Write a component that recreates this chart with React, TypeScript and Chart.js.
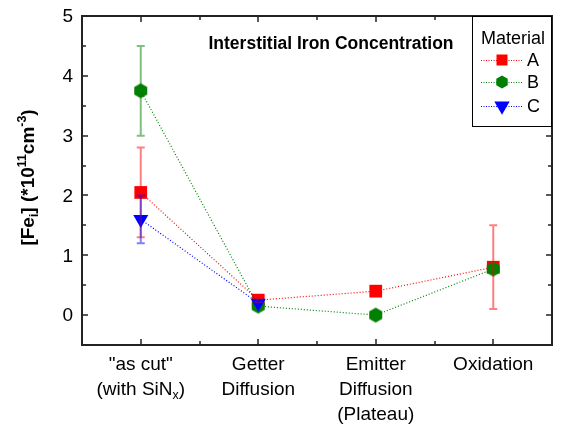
import React, { useEffect, useRef } from 'react';
import { Chart, registerables } from 'chart.js';
Chart.register(...registerables);

const categories: string[][] = [
  ['"as cut"', '(with SiN_{x})'],
  ['Getter', 'Diffusion'],
  ['Emitter', 'Diffusion', '(Plateau)'],
  ['Oxidation'],
];
const categoryPositions = [1, 2, 3, 4];
const seriesNames = ['A', 'B', 'C'];
const valuesA = [2.05, 0.25, 0.4, 0.8];
const errorsA = [0.75, 0.03, 0.06, 0.7];
const valuesB = [3.75, 0.15, 0.0, 0.77];
const errorsB = [0.75, 0, 0, 0];
const valuesC = [1.6, 0.2];
const errorsC = [0.4, 0.03];
const yTicks = [0, 1, 2, 3, 4, 5];
const yMinorTicks = [0.5, 1.5, 2.5, 3.5, 4.5];
const xMinorTicks = [1.5, 2.5, 3.5];
const Y_MIN = -0.5;
const Y_MAX = 5;
const X_MIN = 0.5;
const X_MAX = 4.5;
const chartTitle = 'Interstitial Iron Concentration';
const yAxisTitle = '[Fe_{i}] (*10^{11}cm^{-3})';
const legendTitle = 'Material';

const FONT = '"Liberation Sans", Arial, sans-serif';
const colors = ['#ff0000', '#008000', '#0000ff'];
const errColors = ['rgba(255,0,0,0.5)', 'rgba(0,128,0,0.5)', 'rgba(0,0,255,0.5)'];

type Seg = { t: string; k: 'n' | 'sub' | 'sup' };
function parseRich(s: string): Seg[] {
  const out: Seg[] = [];
  let buf = '';
  let i = 0;
  while (i < s.length) {
    const ch = s[i];
    if ((ch === '_' || ch === '^') && s[i + 1] === '{') {
      if (buf) { out.push({ t: buf, k: 'n' }); buf = ''; }
      const end = s.indexOf('}', i);
      out.push({ t: s.slice(i + 2, end), k: ch === '_' ? 'sub' : 'sup' });
      i = end + 1;
    } else { buf += ch; i++; }
  }
  if (buf) out.push({ t: buf, k: 'n' });
  return out;
}

function drawRich(ctx: CanvasRenderingContext2D, s: string, cx: number, cy: number, size: number, weight: string) {
  const segs = parseRich(s);
  const small = size * 0.65;
  let total = 0;
  const widths: number[] = [];
  for (const sg of segs) {
    ctx.font = `${weight} ${sg.k === 'n' ? size : small}px ${FONT}`;
    const w = ctx.measureText(sg.t).width;
    widths.push(w);
    total += w;
  }
  let x = cx - total / 2;
  const base = cy + size * 0.36;
  ctx.textAlign = 'left';
  ctx.textBaseline = 'alphabetic';
  segs.forEach((sg, idx) => {
    ctx.font = `${weight} ${sg.k === 'n' ? size : small}px ${FONT}`;
    let y = base;
    if (sg.k === 'sub') y = base + size * 0.22;
    if (sg.k === 'sup') y = base - size * 0.42;
    ctx.fillText(sg.t, x, y);
    x += widths[idx];
  });
}

function makeHex(r: number, color: string) {
  const c = document.createElement('canvas');
  const w = Math.ceil(2 * r * 0.866) + 2;
  const h = Math.ceil(2 * r) + 2;
  c.width = w; c.height = h;
  const g = c.getContext('2d')!;
  g.fillStyle = color;
  g.beginPath();
  for (let k = 0; k < 6; k++) {
    const a = Math.PI / 2 + (k * Math.PI) / 3;
    const px = w / 2 + r * Math.cos(a);
    const py = h / 2 + r * Math.sin(a);
    if (k === 0) g.moveTo(px, py); else g.lineTo(px, py);
  }
  g.closePath();
  g.fill();
  return c;
}

function drawMarker(ctx: CanvasRenderingContext2D, kind: number, x: number, y: number, s: number) {
  ctx.fillStyle = colors[kind];
  ctx.beginPath();
  if (kind === 0) {
    ctx.rect(x - s / 2, y - s / 2, s, s);
  } else if (kind === 1) {
    const r = s * 0.6;
    for (let k = 0; k < 6; k++) {
      const a = Math.PI / 2 + (k * Math.PI) / 3;
      const px = x + r * Math.cos(a);
      const py = y + r * Math.sin(a);
      if (k === 0) ctx.moveTo(px, py); else ctx.lineTo(px, py);
    }
  } else {
    const r = s * 0.68;
    ctx.moveTo(x, y + r);
    ctx.lineTo(x - r * 0.866, y - r / 2);
    ctx.lineTo(x + r * 0.866, y - r / 2);
  }
  ctx.closePath();
  ctx.fill();
}

export default function App() {
  const ref = useRef<HTMLCanvasElement | null>(null);
  useEffect(() => {
    const canvas = ref.current!;
    const allValues = [valuesA, valuesB, valuesC];
    const allErrors = [errorsA, errorsB, errorsC];
    const hex = makeHex(7.5, colors[1]);

    const decor = {
      id: 'decor',
      afterDatasetsDraw(chart: any) {
        const ctx: CanvasRenderingContext2D = chart.ctx;
        const xs = chart.scales.x;
        const ys = chart.scales.y;
        const ca = chart.chartArea;
        ctx.save();
        // error bars
        allValues.forEach((vals, si) => {
          vals.forEach((v, j) => {
            const e = allErrors[si][j];
            if (!e) return;
            const x = xs.getPixelForValue(categoryPositions[j]);
            const yt = ys.getPixelForValue(v + e);
            const yb = ys.getPixelForValue(v - e);
            ctx.strokeStyle = errColors[si];
            ctx.lineWidth = 2;
            ctx.beginPath();
            ctx.moveTo(x, yt); ctx.lineTo(x, yb);
            ctx.moveTo(x - 4, yt); ctx.lineTo(x + 4, yt);
            ctx.moveTo(x - 4, yb); ctx.lineTo(x + 4, yb);
            ctx.stroke();
          });
        });
        // frame
        ctx.strokeStyle = '#222';
        ctx.lineWidth = 2;
        ctx.strokeRect(ca.left, ca.top, ca.right - ca.left, ca.bottom - ca.top);
        ctx.lineWidth = 1.5;
        ctx.beginPath();
        yTicks.forEach((t) => {
          const y = Math.round(ys.getPixelForValue(t));
          ctx.moveTo(ca.left, y); ctx.lineTo(ca.left + 6, y);
          ctx.moveTo(ca.right, y); ctx.lineTo(ca.right - 6, y);
        });
        yMinorTicks.forEach((t) => {
          const y = Math.round(ys.getPixelForValue(t));
          ctx.moveTo(ca.left, y); ctx.lineTo(ca.left + 4, y);
          ctx.moveTo(ca.right, y); ctx.lineTo(ca.right - 4, y);
        });
        categoryPositions.forEach((t) => {
          const x = Math.round(xs.getPixelForValue(t));
          ctx.moveTo(x, ca.bottom); ctx.lineTo(x, ca.bottom - 6);
          ctx.moveTo(x, ca.top); ctx.lineTo(x, ca.top + 6);
        });
        xMinorTicks.forEach((t) => {
          const x = Math.round(xs.getPixelForValue(t));
          ctx.moveTo(x, ca.bottom); ctx.lineTo(x, ca.bottom - 4);
          ctx.moveTo(x, ca.top); ctx.lineTo(x, ca.top + 4);
        });
        ctx.stroke();
        // tick labels
        ctx.fillStyle = '#000';
        ctx.font = `19px ${FONT}`;
        ctx.textAlign = 'right';
        ctx.textBaseline = 'middle';
        yTicks.forEach((t) => {
          ctx.fillText(String(t), ca.left - 9, ys.getPixelForValue(t) + 1);
        });
        categories.forEach((lines, i) => {
          const x = xs.getPixelForValue(categoryPositions[i]);
          lines.forEach((ln, k) => {
            drawRich(ctx, ln, x, ca.bottom + 18 + k * 25, 19, 'normal');
          });
        });
        // y axis title
        ctx.save();
        ctx.translate(27, (ca.top + ca.bottom) / 2 - 3);
        ctx.rotate(-Math.PI / 2);
        drawRich(ctx, yAxisTitle, 0, 0, 19, 'bold');
        ctx.restore();
        // chart title
        ctx.font = `bold 17.5px ${FONT}`;
        ctx.textAlign = 'center';
        ctx.textBaseline = 'middle';
        ctx.fillText(chartTitle, 331, 44);
        // legend
        const lx = 472, ly = ca.top, lw = ca.right - 472, lh = 110;
        ctx.fillStyle = '#fff';
        ctx.fillRect(lx, ly, lw, lh);
        ctx.strokeStyle = '#000';
        ctx.lineWidth = 1;
        ctx.strokeRect(lx + 0.5, ly + 0.5, lw - 1, lh);
        ctx.fillStyle = '#000';
        ctx.font = `18px ${FONT}`;
        ctx.textAlign = 'center';
        ctx.fillText(legendTitle, 513, 39);
        const rowY = [60, 82, 106];
        seriesNames.forEach((nm, si) => {
          const y = rowY[si];
          ctx.strokeStyle = colors[si];
          ctx.lineWidth = 1;
          ctx.setLineDash([1, 1.5]);
          ctx.beginPath();
          ctx.moveTo(481, y + 0.5); ctx.lineTo(522, y + 0.5);
          ctx.stroke();
          ctx.setLineDash([]);
          drawMarker(ctx, si, 502, y, si === 2 ? 13 : 11);
          ctx.fillStyle = '#000';
          ctx.font = `18px ${FONT}`;
          ctx.textAlign = 'left';
          ctx.fillText(nm, 527, y + 1);
        });
        ctx.restore();
      },
    };

    const mk = (vals: number[]) => vals.map((v, j) => ({ x: categoryPositions[j], y: v }));
    const chart = new Chart(canvas, {
      type: 'line',
      data: {
        datasets: [
          {
            label: seriesNames[0], data: mk(valuesA), borderColor: colors[0], backgroundColor: colors[0],
            borderWidth: 1.2, borderDash: [1, 2], pointStyle: 'rect', pointRadius: 9, pointHoverRadius: 9,
            pointBorderWidth: 0, order: 3,
          },
          {
            label: seriesNames[1], data: mk(valuesB), borderColor: colors[1], backgroundColor: colors[1],
            borderWidth: 1.2, borderDash: [1, 2], pointStyle: hex as any, pointRadius: 7.5, pointBorderWidth: 0,
            order: 2,
          },
          {
            label: seriesNames[2], data: mk(valuesC), borderColor: colors[2], backgroundColor: colors[2],
            borderWidth: 1.2, borderDash: [1, 2], pointStyle: 'triangle', pointRotation: 180, pointRadius: 8.7,
            pointHoverRadius: 8.7, pointBorderWidth: 0, order: 1,
          },
        ],
      },
      options: {
        animation: false,
        responsive: true,
        maintainAspectRatio: false,
        layout: { padding: { left: 82, right: 7, top: 16, bottom: 80 } },
        plugins: { legend: { display: false }, tooltip: { enabled: false }, title: { display: false } },
        scales: {
          x: { type: 'linear', min: X_MIN, max: X_MAX, display: false },
          y: { type: 'linear', min: Y_MIN, max: Y_MAX, display: false },
        },
      },
      plugins: [decor],
    });
    return () => chart.destroy();
  }, []);
  return (
    <div style={{ position: 'fixed', left: 0, top: 0, width: 561, height: 425, background: '#fff' }}>
      <canvas ref={ref} />
    </div>
  );
}
